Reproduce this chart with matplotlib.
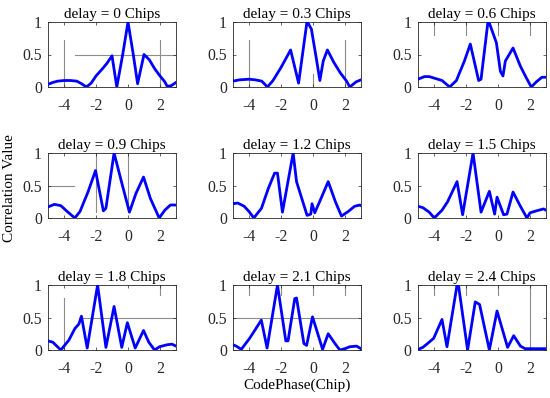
import matplotlib
matplotlib.use('Agg')
import matplotlib.pyplot as plt

plt.rcParams['font.family'] = ['Liberation Serif', 'DejaVu Serif']
plt.rcParams['axes.unicode_minus'] = False

# delays (chips) shown in each panel
delays = ['0', '0.3', '0.6', '0.9', '1.2', '1.5', '1.8', '2.1', '2.4']

# correlation curves (code phase in chips, value)
x_d00 = [-5, -4.7, -4.4, -4.0, -3.6, -3.2, -2.9, -2.6, -2.3, -2.0, -1.6, -1.33, -1.0, -0.7, -0.33, 0, 0.33, 0.6, 1.0, 1.33, 1.67, 2.0, 2.3, 2.45, 2.7, 3.0]
y_d00 = [0.04, 0.07, 0.09, 0.10, 0.10, 0.09, 0.05, 0.0, 0.06, 0.17, 0.28, 0.36, 0.48, 0.0, 0.5, 1.0, 0.5, 0.05, 0.5, 0.42, 0.28, 0.17, 0.08, 0.01, 0.02, 0.07]

x_d03 = [-5, -4.6, -4.0, -3.6, -3.2, -2.85, -2.5, -2.0, -1.4, -0.9, -0.38, -0.3, -0.1, 0.2, 0.43, 0.64, 0.9, 1.3, 1.7, 2.1, 2.3, 2.7, 3.0]
y_d03 = [0.09, 0.11, 0.12, 0.11, 0.09, 0.0, 0.1, 0.3, 0.57, 0.06, 1.0, 0.98, 0.89, 0.45, 0.1, 0.4, 0.57, 0.38, 0.22, 0.09, 0.0, 0.08, 0.11]

x_d06 = [-5, -4.6, -4.3, -3.9, -3.5, -3.02, -2.6, -2.1, -1.73, -1.21, -1.06, -0.63, -0.52, -0.1, 0.15, 0.31, 0.46, 0.94, 1.4, 1.75, 2.08, 2.4, 2.75, 3.0]
y_d06 = [0.12, 0.16, 0.16, 0.13, 0.1, 0.0, 0.1, 0.4, 0.66, 0.1, 0.12, 1.0, 0.97, 0.68, 0.24, 0.17, 0.4, 0.6, 0.32, 0.15, 0.0, 0.08, 0.15, 0.15]

x_d09 = [-5, -4.6, -4.2, -3.8, -3.32, -3.0, -2.5, -2.03, -1.54, -1.38, -0.87, -0.4, 0.09, 0.5, 0.97, 1.4, 1.95, 2.3, 2.65, 3.0]
y_d09 = [0.17, 0.21, 0.19, 0.1, 0.0, 0.1, 0.4, 0.73, 0.11, 0.15, 1.0, 0.55, 0.09, 0.38, 0.63, 0.3, 0.0, 0.12, 0.2, 0.2]

x_d12 = [-5, -4.7, -4.3, -4.0, -3.7, -3.22, -2.8, -2.4, -2.22, -1.91, -1.24, -1.03, -0.7, -0.37, -0.14, -0.06, 0.11, 0.5, 0.95, 1.4, 1.78, 2.2, 2.6, 2.93, 3.0]
y_d12 = [0.22, 0.23, 0.18, 0.1, 0.0, 0.15, 0.45, 0.69, 0.69, 0.09, 1.0, 0.56, 0.3, 0.04, 0.06, 0.22, 0.08, 0.3, 0.56, 0.25, 0.03, 0.1, 0.18, 0.2, 0.19]

x_d15 = [-5, -4.7, -4.3, -3.98, -3.5, -3.15, -2.56, -2.21, -1.56, -1.06, -0.54, -0.21, -0.06, 0.35, 0.56, 0.94, 1.4, 1.81, 2.0, 2.4, 2.85, 3.0]
y_d15 = [0.18, 0.16, 0.09, 0.0, 0.12, 0.25, 0.56, 0.05, 1.0, 0.09, 0.41, 0.06, 0.32, 0.05, 0.06, 0.4, 0.18, 0.0, 0.08, 0.11, 0.14, 0.12]

x_d18 = [-5, -4.7, -4.2, -3.7, -3.32, -3.07, -2.91, -2.55, -1.9, -1.38, -0.87, -0.39, -0.04, 0.45, 0.97, 1.3, 1.66, 1.97, 2.43, 2.75, 3.0]
y_d18 = [0.14, 0.12, 0.0, 0.15, 0.33, 0.4, 0.52, 0.03, 1.0, 0.04, 0.67, 0.04, 0.42, 0.03, 0.3, 0.12, 0.0, 0.05, 0.08, 0.09, 0.06]

x_d21 = [-5, -4.8, -4.48, -3.96, -3.23, -2.87, -2.22, -1.7, -1.56, -1.14, -1.03, -0.57, -0.4, -0.03, 0.6, 0.95, 1.37, 1.68, 1.99, 2.3, 2.72, 3.0]
y_d21 = [0.08, 0.06, 0.01, 0.18, 0.46, 0.03, 1.0, 0.14, 0.14, 0.79, 0.8, 0.1, 0.07, 0.51, 0.01, 0.25, 0.1, 0.0, 0.02, 0.05, 0.06, 0.02]

x_d24 = [-5, -4.7, -4.4, -4.02, -3.5, -3.19, -2.56, -2.46, -1.9, -1.42, -1.15, -0.54, -0.06, 0.6, 0.98, 1.4, 1.7, 2.2, 2.7, 3.0]
y_d24 = [0.01, 0.04, 0.1, 0.18, 0.47, 0.05, 1.0, 0.98, 0.0, 0.74, 0.7, 0.0, 0.6, 0.04, 0.22, 0.06, 0.02, 0.02, 0.02, 0.02]

curves = [(x_d00, y_d00), (x_d03, y_d03), (x_d06, y_d06),
          (x_d09, y_d09), (x_d12, y_d12), (x_d15, y_d15),
          (x_d18, y_d18), (x_d21, y_d21), (x_d24, y_d24)]

xticks = [-4, -2, 0, 2]
yticks = [0, 0.5, 1]
ytick_labels = ['0', '0.5', '1']

# leftover grid strokes in the original export: (kind, pos, from, to)
grid_bits = [
    [('v', -4, 0, 0.72), ('v', 2, 0, 0.72), ('h', 0.5, 0.21, 1)],
    [('v', -4, 0, 0.72), ('v', 2, 0, 0.72), ('v', 0, 0, 0.2)],
    [('v', -4, 0.8, 1), ('v', -2, 0.8, 1), ('v', 0, 0.8, 1), ('v', 2, 0.8, 1)],
    [('v', -2, 0.1, 1), ('v', 0, 0.1, 1), ('h', 0.5, 0, 0.2)],
    [],
    [],
    [('v', -4, 0, 0.8), ('v', 2, 0.85, 1), ('h', 0.5, 0.24, 1)],
    [('v', -4, 0.85, 1), ('v', -2, 0.85, 1), ('v', 0, 0.85, 1), ('v', 2, 0.85, 1), ('h', 0.5, 0, 1)],
    [('v', -4, 0.85, 1), ('v', -2, 0.85, 1), ('v', 0, 0.85, 1), ('v', 2, 0, 1)],
]

fig = plt.figure(figsize=(5.5, 3.98), dpi=100)

lefts = [48 / 550, 233 / 550, 418 / 550]
bottoms = [1 - 87 / 398, 1 - 218 / 398, 1 - 350 / 398]
w = 128 / 550
h = 65 / 398

for i, (xs, ys) in enumerate(curves):
    r, c = divmod(i, 3)
    ax = fig.add_axes([lefts[c], bottoms[r], w, h])
    for kind, pos, a, b in grid_bits[i]:
        if kind == 'v':
            ax.axvline(pos, ymin=a, ymax=b, color='#8c8c8c', lw=0.8, zorder=1)
        else:
            ax.axhline(pos, xmin=a, xmax=b, color='#8c8c8c', lw=0.8, zorder=1)
    ax.plot(xs, ys, color='#0000ff', lw=2, zorder=3)
    ax.set_xlim(-5, 3)
    ax.set_ylim(0, 1)
    ax.set_xticks(xticks)
    ax.set_yticks(yticks)
    ax.set_yticklabels(ytick_labels)
    ax.tick_params(direction='in', length=2, width=0.5, labelsize=11.3,
                   colors='#262626', top=True, right=True)
    ax.tick_params(axis='x', pad=8)
    ax.tick_params(axis='y', pad=4.5)
    for s in ax.spines.values():
        s.set_linewidth(0.6)
        s.set_color('#262626')
    ax.set_title('delay = %s Chips' % delays[i], fontsize=11, pad=3)

fig.text(10 / 550, 1 - 188 / 398, 'Correlation Value', rotation=90,
         ha='center', va='center', fontsize=11)
fig.text(297 / 550, 1 - 385 / 398, 'CodePhase(Chip)', ha='center',
         va='center', fontsize=11)

fig.savefig('out.png', dpi=100)
